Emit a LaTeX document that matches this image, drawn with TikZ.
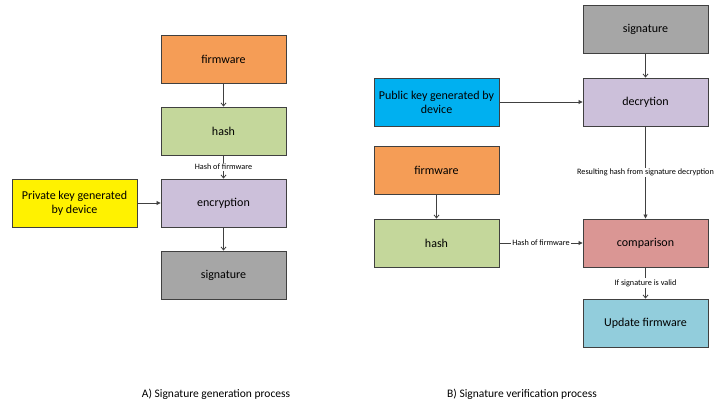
\documentclass[tikz,border=0pt]{standalone}
\usepackage{fontspec}
\setmainfont{Carlito}
\usetikzlibrary{arrows.meta, positioning}

\definecolor{fwOrange}{HTML}{F59D56}
\definecolor{hashGreen}{HTML}{C4D79B}
\definecolor{cryptLilac}{HTML}{CCC0DA}
\definecolor{sigGrey}{HTML}{A6A6A6}
\definecolor{keyBlue}{HTML}{00B0F0}
\definecolor{cmpRed}{HTML}{DA9694}
\definecolor{updCyan}{HTML}{92CDDC}
\definecolor{edgeGrey}{HTML}{404040}

\begin{document}
\begin{tikzpicture}[
    x=1pt, y=-1pt,
    block/.style={rectangle, draw=edgeGrey, line width=0.9pt, minimum width=125pt, minimum height=48pt,
        align=center, font=\fontsize{12}{14}\selectfont},
    flow/.style={draw=edgeGrey, line width=0.8pt, -{Straight Barb[length=3pt, width=5pt]}},
    push/.style={draw=edgeGrey, line width=0.8pt, -{Triangle[length=4pt, width=4pt]}},
    tag/.style={fill=white, inner sep=1pt, font=\fontsize{8.2}{10}\selectfont},
    caption/.style={font=\fontsize{11.5}{13}\selectfont}
]
    \useasboundingbox (0,0) rectangle (715,406);

    % A) generation
    \node[block, fill=fwOrange] (gfirm) at (223.5, 59) {firmware};
    \node[block, fill=hashGreen] (ghash) at (223.5, 131) {hash};
    \node[block, fill=cryptLilac] (gencr) at (223.5, 203) {encryption};
    \node[block, fill=sigGrey] (gsig) at (223.5, 275) {signature};
    \node[block, fill=yellow] (gkey) at (74.5, 203) {Private key generated\\by device};

    \draw[flow] (gfirm) -- (ghash);
    \draw[flow] (ghash) -- node[tag] {Hash of firmware} (gencr);
    \draw[push] (gkey) -- (gencr);
    \draw[flow] (gencr) -- (gsig);

    % B) verification
    \node[block, fill=sigGrey] (vsig) at (645.5, 29) {signature};
    \node[block, fill=cryptLilac] (vdecr) at (645.5, 102) {decrytion};
    \node[block, fill=keyBlue] (vkey) at (436.5, 102) {Public key generated by\\device};
    \node[block, fill=fwOrange] (vfirm) at (436.5, 170.5) {firmware};
    \node[block, fill=hashGreen] (vhash) at (436.5, 243) {hash};
    \node[block, fill=cmpRed] (vcmp) at (645.5, 243) {comparison};
    \node[block, fill=updCyan] (vupd) at (645.5, 323) {Update firmware};

    \draw[flow] (vsig) -- (vdecr);
    \draw[push] (vkey) -- (vdecr);
    \draw[push] (vdecr) -- node[tag] {Resulting hash from signature decryption} (vcmp);
    \draw[flow] (vfirm) -- (vhash);
    \draw[push] (vhash) -- node[tag] {Hash of firmware} (vcmp);
    \draw[flow] (vcmp) -- node[tag] {If signature is valid} (vupd);

    % captions
    \node[caption] (capA) at (216, 394) {A) Signature generation process};
    \node[caption] (capB) at (522, 394) {B) Signature verification process};
\end{tikzpicture}
\end{document}
